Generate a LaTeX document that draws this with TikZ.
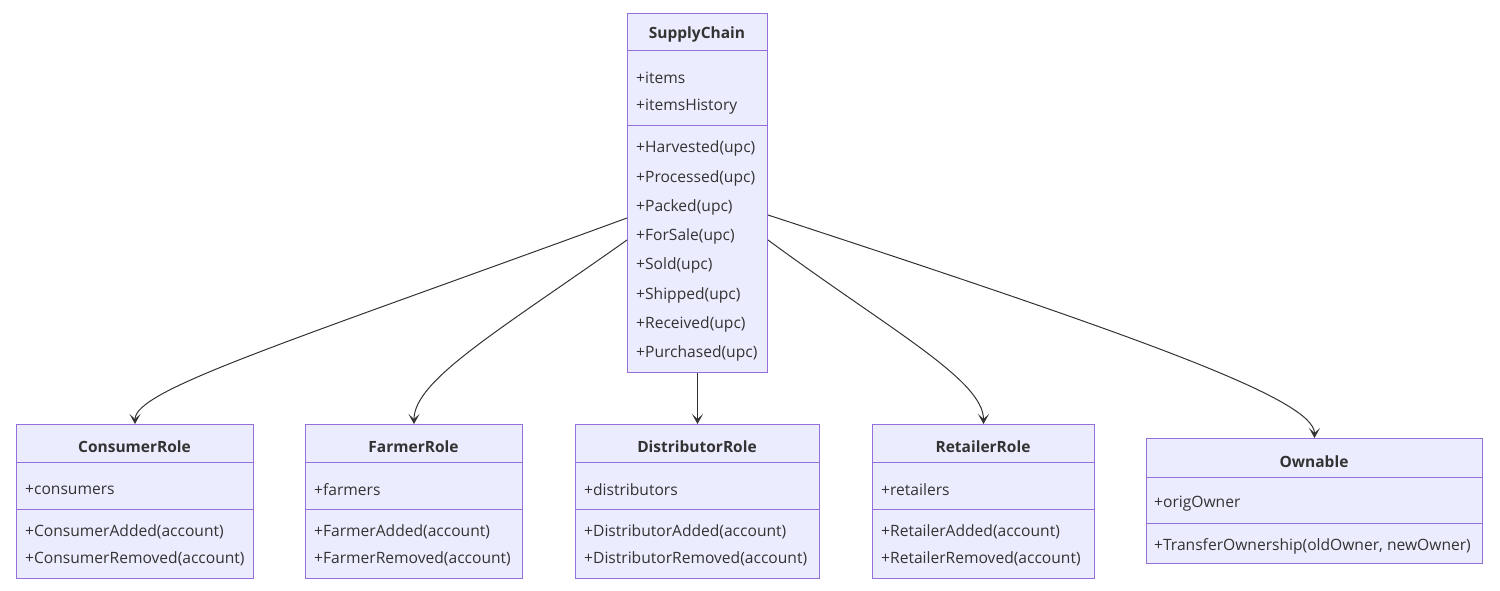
\documentclass[tikz,border=0pt]{standalone}
\usepackage{fontspec}
\setmainfont{Open Sans}
\usetikzlibrary{arrows.meta}
\definecolor{cfill}{HTML}{ECECFF}
\definecolor{cdraw}{HTML}{9370DB}
\definecolor{ctext}{HTML}{333333}
\begin{document}
\begin{tikzpicture}[x=1pt,y=-1pt,
 cls/.style={draw=cdraw,fill=cfill,line width=1pt,inner sep=0,anchor=north west},
 sep/.style={draw=cdraw,line width=1pt},
 ttl/.style={font=\fontsize{15.5}{18}\selectfont\bfseries,text=ctext,inner sep=0,yshift=-1.5pt},
 mem/.style={font=\fontsize{15.6}{18}\selectfont,text=ctext,anchor=west,inner sep=0,yshift=-1.5pt},
 rel/.style={draw=ctext,line width=1pt,-{Stealth[length=10pt,width=11pt,inset=5pt]}}]
\fill[white] (0,0) rectangle (1500,591);
\useasboundingbox (0,0) rectangle (1500,591);

% SupplyChain
\node[cls,minimum width=140pt,minimum height=359pt] (sc) at (627,13) {};
\node[ttl] (sct) at (697,33) {SupplyChain};
\draw[sep] (627,51) -- (767,51);
\draw[sep] (627,126) -- (767,126);
\node[mem] (sca1) at (636,76) {+items};
\node[mem] (sca2) at (636,105) {+itemsHistory};
\node[mem] (scm1) at (636,147) {+Harvested(upc)};
\node[mem] (scm2) at (636,177) {+Processed(upc)};
\node[mem] (scm3) at (636,206) {+Packed(upc)};
\node[mem] (scm4) at (636,235) {+ForSale(upc)};
\node[mem] (scm5) at (636,264) {+Sold(upc)};
\node[mem] (scm6) at (636,294) {+Shipped(upc)};
\node[mem] (scm7) at (636,323) {+Received(upc)};
\node[mem] (scm8) at (636,352) {+Purchased(upc)};

% ConsumerRole
\node[cls,minimum width=237pt,minimum height=154pt] (cr) at (16,424) {};
\node[ttl] (crt) at (134.5,445) {ConsumerRole};
\draw[sep] (16,462) -- (253,462);
\draw[sep] (16,509) -- (253,509);
\node[mem] (cra) at (25,488) {+consumers};
\node[mem] (crm1) at (25,530) {+ConsumerAdded(account)};
\node[mem] (crm2) at (25,557) {+ConsumerRemoved(account)};

% FarmerRole
\node[cls,minimum width=217pt,minimum height=154pt] (fr) at (305,424) {};
\node[ttl] (frt) at (413.5,445) {FarmerRole};
\draw[sep] (305,462) -- (522,462);
\draw[sep] (305,509) -- (522,509);
\node[mem] (fra) at (314,488) {+farmers};
\node[mem] (frm1) at (314,530) {+FarmerAdded(account)};
\node[mem] (frm2) at (314,557) {+FarmerRemoved(account)};

% DistributorRole
\node[cls,minimum width=244pt,minimum height=154pt] (dr) at (575,424) {};
\node[ttl] (drt) at (697,445) {DistributorRole};
\draw[sep] (575,462) -- (819,462);
\draw[sep] (575,509) -- (819,509);
\node[mem] (dra) at (584,488) {+distributors};
\node[mem] (drm1) at (584,530) {+DistributorAdded(account)};
\node[mem] (drm2) at (584,557) {+DistributorRemoved(account)};

% RetailerRole
\node[cls,minimum width=222pt,minimum height=154pt] (rr) at (872,424) {};
\node[ttl] (rrt) at (983,445) {RetailerRole};
\draw[sep] (872,462) -- (1094,462);
\draw[sep] (872,509) -- (1094,509);
\node[mem] (rra) at (881,488) {+retailers};
\node[mem] (rrm1) at (881,530) {+RetailerAdded(account)};
\node[mem] (rrm2) at (881,557) {+RetailerRemoved(account)};

% Ownable
\node[cls,minimum width=336pt,minimum height=125pt] (ow) at (1146,438) {};
\node[ttl] (owt) at (1314,460) {Ownable};
\draw[sep] (1146,477) -- (1482,477);
\draw[sep] (1146,523) -- (1482,523);
\node[mem] (owa) at (1154,502) {+origOwner};
\node[mem] (owm1) at (1154,545) {+TransferOwnership(oldOwner, newOwner)};

% relations
\draw[rel] (sc.west |- 0,218) .. controls (280,345) and (cr.north |- 0,390) .. (cr.north);
\draw[rel] (sc.west |- 0,240) .. controls (500,330) and (fr.north |- 0,380) .. (fr.north);
\draw[rel] (sc.south) -- (dr.north);
\draw[rel] (sc.east |- 0,240) .. controls (890,330) and (rr.north |- 0,380) .. (rr.north);
\draw[rel] (sc.east |- 0,215) .. controls (1150,340) and (ow.north |- 0,400) .. (ow.north);
\end{tikzpicture}
\end{document}
